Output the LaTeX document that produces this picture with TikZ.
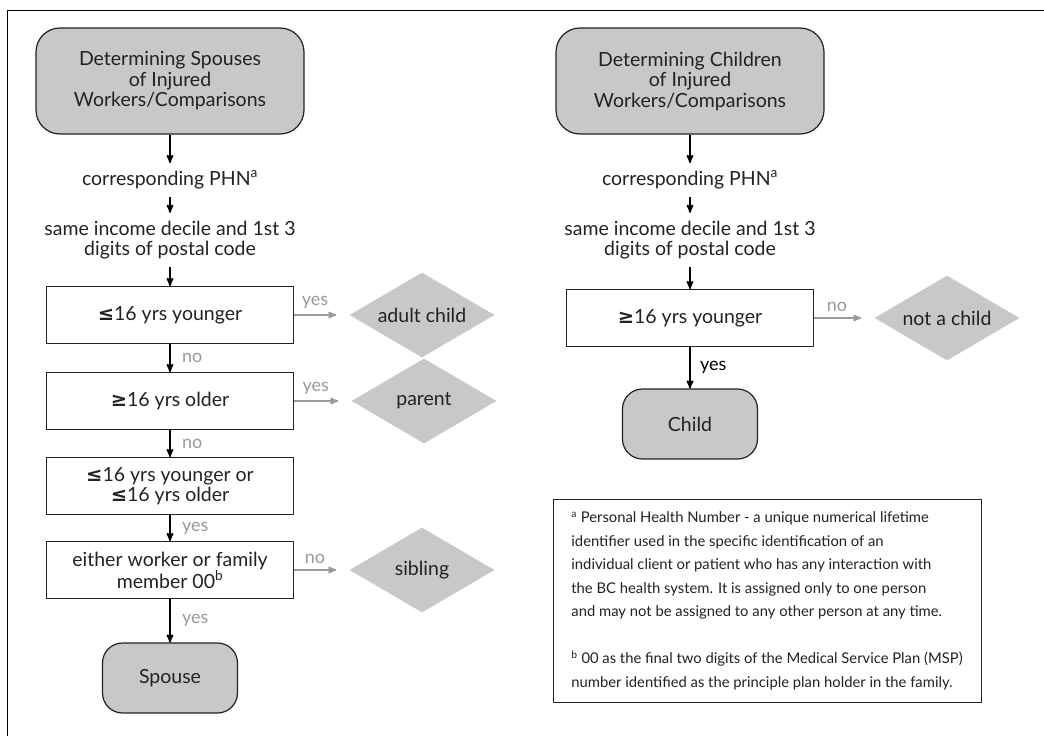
\documentclass[tikz,border=0pt]{standalone}
\usepackage{fontspec}
\setmainfont{Lato}
\newfontfamily\symfont{DejaVu Sans}
\usepackage{xcolor}
\usetikzlibrary{arrows,shapes,positioning}
\definecolor{boxgray}{HTML}{C8C8C8}
\definecolor{linkgray}{HTML}{9A9A9A}
\definecolor{inkgray}{HTML}{222222}
\newcommand{\leqsym}{{\symfont\bfseries ≤}}
\newcommand{\geqsym}{{\symfont\bfseries ≥}}

\begin{document}
\begin{tikzpicture}[x=1pt, y=-1pt, >=stealth', semithick, text=inkgray, font=\fontsize{19.5}{20.5}\selectfont]
\useasboundingbox (0,0) rectangle (1044,736);
\tikzstyle{startbox}=[draw=inkgray, fill=boxgray, rounded corners=24pt, line width=1.2pt, minimum width=268pt, minimum height=106pt, align=center]
\tikzstyle{endbox}=[draw=inkgray, fill=boxgray, rounded corners=20pt, line width=1.2pt, minimum width=135pt, minimum height=70pt]
\tikzstyle{test}=[draw=inkgray, line width=1pt, minimum width=247pt, minimum height=57pt, align=center]
\tikzstyle{crit}=[align=center, inner sep=0pt, outer ysep=8pt]
\tikzstyle{result}=[diamond, fill=boxgray, aspect=1.7, inner sep=0pt, minimum width=145pt, minimum height=85pt]
\tikzstyle{down}=[->, black, line width=1.7pt]
\tikzstyle{side}=[->, linkgray, line width=1.7pt, shorten >=13pt]
\tikzstyle{tag}=[linkgray, font=\fontsize{18}{20}\selectfont]

% frame
\draw[line width=1pt] (7,736) -- (7,10) -- (1044,10);

% spouses
\node[startbox] (sp) at (170,81) {Determining Spouses\\of Injured\\Workers/Comparisons};
\node[crit] (sphn) at (170,180) {corresponding PHN\textsuperscript{a}};
\node[crit] (spinc) at (170,240) {same income decile and 1st 3\\digits of postal code};
\node[test] (q1) at (170,315) {\leqsym16 yrs younger};
\node[result] (adult) at (422,315) {adult child};
\node[test] (q2) at (170,401) {\geqsym16 yrs older};
\node[result] (parent) at (424,401) {parent};
\node[test] (q3) at (170,486) {\leqsym16 yrs younger or\\\leqsym16 yrs older};
\node[test] (q4) at (170,570) {either worker or family\\member 00\textsuperscript{b}};
\node[result] (sib) at (422,570) {sibling};
\node[endbox] (spouse) at (170,678) {Spouse};

% children
\node[startbox] (ch) at (690,81) {Determining Children\\of Injured\\Workers/Comparisons};
\node[crit] (chphn) at (690,180) {corresponding PHN\textsuperscript{a}};
\node[crit] (chinc) at (690,240) {same income decile and 1st 3\\digits of postal code};
\node[test] (q5) at (690,318) {\geqsym16 yrs younger};
\node[result] (notch) at (947,318) {not a child};
\node[endbox] (child) at (690,424) {Child};

\node[draw=inkgray, line width=1pt, minimum width=428pt, minimum height=203pt, align=left, font=\fontsize{14.8}{23.5}\selectfont] (notes) at (767,601)
  {\textsuperscript{a} Personal Health Number - a unique numerical lifetime\\
   identifier used in the specific identification of an\\
   individual client or patient who has any interaction with\\
   the BC health system. It is assigned only to one person\\
   and may not be assigned to any other person at any time.\\[23.5pt]
   \textsuperscript{b} 00 as the final two digits of the Medical Service Plan (MSP)\\
   number identified as the principle plan holder in the family.};

\path
(sp) edge [down] (sphn)
(sphn) edge [down] (spinc)
(spinc) edge [down] (q1)
(q1) edge [down] node [tag, right=8pt] {no} (q2)
(q2) edge [down] node [tag, right=8pt] {no} (q3)
(q3) edge [down] node [tag, right=8pt] {yes} (q4)
(q4) edge [down] node [tag, right=8pt] {yes} (spouse)

(q1) edge [side] node [tag, above=2pt, pos=0.38] {yes} (adult)
(q2) edge [side] node [tag, above=2pt, pos=0.38] {yes} (parent)
(q4) edge [side] node [tag, above=2pt, pos=0.38] {no} (sib)

(ch) edge [down] (chphn)
(chphn) edge [down] (chinc)
(chinc) edge [down] (q5)
(q5) edge [down] node [right=6pt, font=\fontsize{18}{20}\selectfont] {yes} (child)
(q5) edge [side] node [tag, above=2pt, pos=0.38] {no} (notch);
\end{tikzpicture}
\end{document}
